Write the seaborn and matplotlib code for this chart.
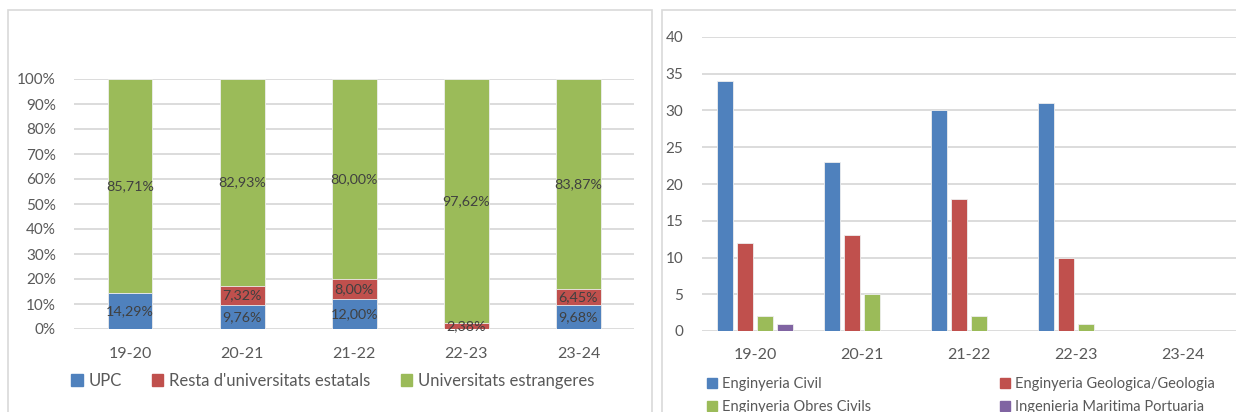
import numpy as np
import pandas as pd
import matplotlib
matplotlib.use("Agg")
import matplotlib.pyplot as plt
import seaborn as sns
from matplotlib.patches import Rectangle, Patch

# ---------------- data ----------------
courses = ["19-20", "20-21", "21-22", "22-23", "23-24"]
origin_labels = ["UPC", "Resta d'universitats estatals", "Universitats estrangeres"]
upc = [14.29, 9.76, 12.00, 0.0, 9.68]
resta = [0.0, 7.32, 8.00, 2.38, 6.45]
estrangeres = [85.71, 82.93, 80.00, 97.62, 83.87]

prog_labels = ["Enginyeria Civil", "Enginyeria Geologica/Geologia",
               "Enginyeria Obres Civils", "Ingenieria Maritima Portuaria"]
civil = [34, 23, 30, 31, 0]
geologia = [12, 13, 18, 10, 0]
obres = [2, 5, 2, 1, 0]
maritima = [1, 0, 0, 0, 0]

colors = ["#4F81BD", "#C0504D", "#9BBB59", "#8064A2"]
text_col = "#595959"
grid_col = "#D9D9D9"

sns.set_theme(style="white")
plt.rcParams["font.family"] = ["Lato", "DejaVu Sans"]

W, H = 1236, 412
fig = plt.figure(figsize=(W / 100, H / 100), dpi=100)

# panel borders
fig.patches.append(Rectangle((8 / W, -0.1), (652 - 8) / W, (H - 10) / H + 0.1,
                             transform=fig.transFigure, fill=False, ec=grid_col, lw=1.2))
fig.patches.append(Rectangle((662 / W, -0.1), 1.0, (H - 10) / H + 0.1,
                             transform=fig.transFigure, fill=False, ec=grid_col, lw=1.2))

# ---------------- left: stacked 100% ----------------
axL = fig.add_axes([74 / W, (H - 329) / H, 560.5 / W, 250 / H])
series = [upc, resta, estrangeres]
cum = np.cumsum(np.array(series), axis=0)
for i in [2, 1, 0]:
    sns.barplot(x=courses, y=cum[i], color=colors[i], width=0.4, saturation=1,
                ax=axL, zorder=2, linewidth=0.6, edgecolor="#EEEEEE")
axL.set_ylim(0, 100)
axL.set_yticks(np.arange(0, 101, 10))
axL.set_yticklabels([f"{t}%" for t in range(0, 101, 10)])
axL.yaxis.grid(True, color=grid_col, lw=1.3)
axL.set_axisbelow(True)
for s in axL.spines.values():
    s.set_visible(False)
axL.tick_params(axis="y", length=0, pad=13, labelsize=11, labelcolor=text_col)
axL.tick_params(axis="x", length=0, pad=13, labelsize=11.5, labelcolor=text_col)
axL.set_xlabel("")
axL.set_ylabel("")
for j in range(len(courses)):
    bottom = 0.0
    for i in range(3):
        v = series[i][j]
        if v > 0:
            axL.text(j, bottom + v / 2, f"{v:.2f}".replace(".", ",") + "%",
                     ha="center", va="center", fontsize=10.3, color="#404040", zorder=5)
        bottom += v

handlesL = [Patch(color=c) for c in colors[:3]]
fig.legend(handlesL, origin_labels, loc="center left",
           bbox_to_anchor=(71 / W, (H - 381) / H), ncol=3, frameon=False,
           handlelength=0.7, handleheight=0.7, handletextpad=0.35,
           columnspacing=1.8, fontsize=12, labelcolor=text_col,
           borderpad=0, borderaxespad=0)

# ---------------- right: grouped bars ----------------
axR = fig.add_axes([701.5 / W, (H - 331) / H, 535 / W, 294 / H])
df = pd.DataFrame({
    "curs": courses * 4,
    "prog": sum([[p] * len(courses) for p in prog_labels], []),
    "n": civil + geologia + obres + maritima,
})
sns.barplot(data=df, x="curs", y="n", hue="prog", hue_order=prog_labels,
            order=courses, palette=colors, width=0.75, gap=0.22, saturation=1,
            legend=False, ax=axR, zorder=2, linewidth=0.6, edgecolor="#EEEEEE")
axR.set_ylim(0, 40)
axR.set_yticks(np.arange(0, 41, 5))
axR.yaxis.grid(True, color=grid_col, lw=1.3)
axR.set_axisbelow(True)
for s in axR.spines.values():
    s.set_visible(False)
axR.tick_params(axis="y", length=0, pad=13, labelsize=11, labelcolor=text_col)
axR.tick_params(axis="x", length=0, pad=12, labelsize=11.5, labelcolor=text_col)
axR.set_xlabel("")
axR.set_ylabel("")

handlesR = [Patch(color=c) for c in colors]
for col, x0 in [(0, 707), (1, 1000)]:
    idx = [col, col + 2]
    fig.legend([handlesR[k] for k in idx], [prog_labels[k] for k in idx],
               loc="upper left", bbox_to_anchor=(x0 / W, (H - 377) / H),
               ncol=1, frameon=False, handlelength=0.7, handleheight=0.7,
               handletextpad=0.3, labelspacing=0.62, fontsize=10.5,
               labelcolor=text_col, borderpad=0, borderaxespad=0)

fig.savefig("out.png", dpi=100)
